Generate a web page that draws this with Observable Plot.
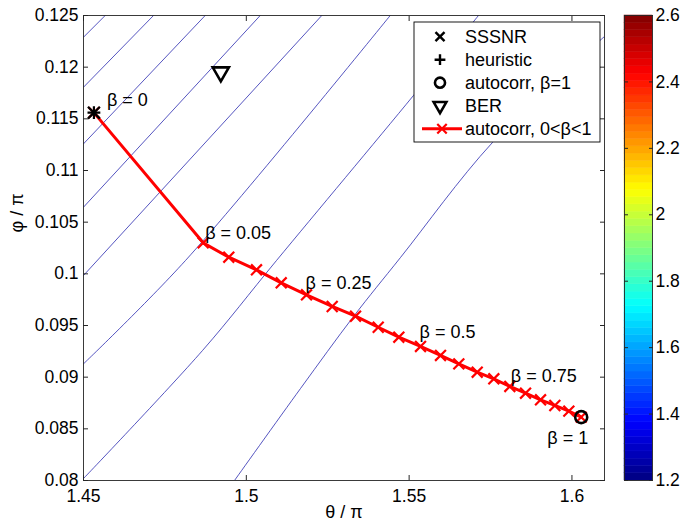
<!DOCTYPE html>
<html><head><meta charset="utf-8">
<script src="https://cdn.jsdelivr.net/npm/d3@7"></script>
<script src="https://cdn.jsdelivr.net/npm/@observablehq/plot@0.6"></script>
<style>
body{margin:0;background:#fff;}
#wrap{position:relative;width:685px;height:530px;}
#wrap svg{position:absolute;left:0;top:0;}
</style></head><body><div id="wrap"></div>
<script>
// ---- data ----
const beta  = [0,0.05,0.1,0.15,0.2,0.25,0.3,0.35,0.4,0.45,0.5,0.55,0.6,0.65,0.7,0.75,0.8,0.85,0.9,0.95,1];
const theta = [1.4532,1.48676,1.49462,1.50313,1.51072,1.51849,1.52638,1.53354,1.54051,1.54684,1.5535,1.55964,1.56526,1.57091,1.57601,1.58093,1.58575,1.59036,1.59475,1.59905,1.60285];
const phi   = [0.1156,0.1030,0.10161,0.10039,0.09913,0.09797,0.09684,0.0959,0.09483,0.09387,0.09297,0.0921,0.09129,0.09048,0.08984,0.0891,0.08845,0.08781,0.08726,0.08671,0.08613];
const sssnr = [1.4532, 0.1156];
const heuristic = [1.4532, 0.1156];
const autocorrBeta1 = [1.60285, 0.08613];
const ber = [1.49217, 0.11953];
const contour1 = [[1.45,0.1229],[1.45666,0.125]];
const contour2 = [[1.45,0.11806],[1.4715,0.125]];
const contour3 = [[1.45,0.11258],[1.48737,0.125]];
const contour4 = [[1.45,0.10645],[1.50427,0.125]];
const contour5 = [[1.45,0.09984],[1.52318,0.125]];
const contour6 = [[1.45,0.09129],[1.48132,0.10129],[1.54419,0.125]];
const contour7 = [[1.45,0.08019],[1.48655,0.09258],[1.50927,0.10129],[1.55134,0.11726],[1.5713,0.125]];
const contour8 = [[1.49637,0.08],[1.51664,0.0889],[1.53292,0.09587],[1.54735,0.10158],[1.5756,0.11271],[1.61,0.12297]];
const xTicks = [1.45,1.5,1.55,1.6];
const yTicks = [0.08,0.085,0.09,0.095,0.1,0.105,0.11,0.115,0.12,0.125];
const cbTicks = [1.2,1.4,1.6,1.8,2,2.2,2.4,2.6];
const jetStops = [1.2,1.375,1.725,2.075,2.425,2.6];
const jetColors = ["#000080","#0000ff","#00ffff","#ffff00","#ff0000","#800000"];
const betaLabels = [0,0.05,0.25,0.5,0.75,1];
const legendLabels = ["SSSNR","heuristic","autocorr, β=1","BER","autocorr, 0<β<1"];
const xLabel = "θ / π";
const yLabel = "φ / π";

// ---- build ----
const table = beta.map((b,i)=>({beta:b, theta:theta[i], phi:phi[i]}));
const contours = [contour1,contour2,contour3,contour4,contour5,contour6,contour7,contour8]
  .flatMap((pts,id)=>pts.map(([x,y])=>({x,y,id})));
const fmt = d => String(+d.toFixed(3));
const FONT = "Liberation Sans, Arial, Helvetica, sans-serif";
const ink = "#262626";

// label offsets (style) relative to their beta point
const labelStyle = {
  0:    {dx:13, dy:-12.5, textAnchor:"start"},
  0.05: {dx:2,  dy:-10,   textAnchor:"start"},
  0.25: {dx:-1, dy:-12,   textAnchor:"start"},
  0.5:  {dx:-1, dy:-14,   textAnchor:"start"},
  0.75: {dx:1,  dy:-10.5, textAnchor:"start"},
  1:    {dx:7,  dy:21,    textAnchor:"end"}
};

const main = Plot.plot({
  width:685, height:530,
  marginLeft:83, marginRight:81, marginTop:15, marginBottom:50,
  style:{fontFamily:FONT, fontSize:"17.5px", color:"#000", background:"transparent"},
  x:{domain:[1.45,1.61]},
  y:{domain:[0.08,0.125]},
  marks:[
    Plot.line(contours, {x:"x", y:"y", z:"id", stroke:"#2a2ab0", strokeWidth:0.8, curve:"catmull-rom", clip:true}),
    Plot.line(table, {x:"theta", y:"phi", stroke:"#ff0000", strokeWidth:3, strokeLinejoin:"round"}),
    Plot.dot(table, {x:"theta", y:"phi", symbol:"times", r:5, stroke:"#ff0000", strokeWidth:2.2}),
    Plot.dot([sssnr], {x:d=>d[0], y:d=>d[1], symbol:"times", r:5.5, stroke:"#000", strokeWidth:2.2}),
    Plot.dot([heuristic], {x:d=>d[0], y:d=>d[1], symbol:"plus", r:4.2, stroke:"#000", strokeWidth:2.2}),
    Plot.dot([autocorrBeta1], {x:d=>d[0], y:d=>d[1], symbol:"circle", r:6, fill:"none", stroke:"#000", strokeWidth:2.6}),
    Plot.dot([ber], {x:d=>d[0], y:d=>d[1], symbol:"triangle", rotate:180, r:6, fill:"none", stroke:"#000", strokeWidth:2.6}),
    ...betaLabels.map(b => {
      const s = labelStyle[b];
      return Plot.text(table.filter(d=>d.beta===b), {x:"theta", y:"phi", text:d=>"β = "+d.beta,
        dx:s.dx, dy:s.dy, textAnchor:s.textAnchor, fontSize:18, fill:"#000"});
    }),
    Plot.frame({stroke:ink, strokeWidth:0.9}),
    // inward ticks on all four sides
    Plot.axisY(yTicks, {anchor:"left", tickSize:5, dx:5, fill:"none", stroke:ink, label:null}),
    Plot.axisY(yTicks, {anchor:"right", tickSize:5, dx:-5, fill:"none", stroke:ink, label:null}),
    Plot.axisX(xTicks, {anchor:"bottom", tickSize:5, dy:-5, fill:"none", stroke:ink, label:null}),
    Plot.axisX(xTicks, {anchor:"top", tickSize:5, dy:5, fill:"none", stroke:ink, label:null}),
    // tick labels
    Plot.axisY(yTicks, {anchor:"left", tickSize:0, tickPadding:5, tickFormat:fmt, label:null}),
    Plot.axisX(xTicks, {anchor:"bottom", tickSize:0, tickPadding:9, tickFormat:fmt, label:null}),
    Plot.text([xLabel], {text:d=>d, frameAnchor:"bottom", dy:37, fontSize:18}),
    Plot.text([yLabel], {text:d=>d, frameAnchor:"left", dx:-66, dy:-15.5, rotate:-90, fontSize:18})
  ]
});

// legend (drawn in pixels inside the plot SVG)
{
  const svg = d3.select(main);
  const g = svg.append("g").attr("font-family", FONT).attr("font-size", 18).attr("text-anchor","start");
  const bx = 414, by = 22, bw = 186, bh = 120;
  g.append("rect").attr("x",bx).attr("y",by).attr("width",bw).attr("height",bh)
    .attr("fill","#fff").attr("stroke","#000").attr("stroke-width",0.9);
  const symX = 440, textX = 465, row0 = 36.7, rowH = 23;
  const syms = [
    {type:d3.symbolTimes, size:55, fill:"none", stroke:"#000", sw:2.4},
    {type:d3.symbolPlus, size:40, fill:"none", stroke:"#000", sw:2.4},
    {type:d3.symbolCircle, size:80, fill:"none", stroke:"#000", sw:2.6},
    {type:d3.symbolTriangle, size:70, fill:"none", stroke:"#000", sw:2.6, rot:180},
    null
  ];
  legendLabels.forEach((lab,i)=>{
    const y = row0 + i*rowH;
    const s = syms[i];
    if (s) {
      g.append("path").attr("d", d3.symbol(s.type, s.size)())
        .attr("transform", `translate(${symX},${y})` + (s.rot ? ` rotate(${s.rot})` : ""))
        .attr("fill", s.fill).attr("stroke", s.stroke).attr("stroke-width", s.sw);
    } else {
      g.append("line").attr("x1",422).attr("x2",462).attr("y1",y).attr("y2",y)
        .attr("stroke","#ff0000").attr("stroke-width",3);
      g.append("path").attr("d", d3.symbol(d3.symbolTimes, 60)())
        .attr("transform",`translate(442,${y})`).attr("fill","none")
        .attr("stroke","#ff0000").attr("stroke-width",2.2);
    }
    g.append("text").attr("x",textX).attr("y",y).attr("dy","0.35em")
      .attr("text-anchor","start").attr("fill","#000").text(lab);
  });
}

// colorbar as a second plot
const bands = d3.range(64).map(i => ({lo:1.2+1.4*i/64, hi:1.2+1.4*(i+1)/64}));
const cbar = Plot.plot({
  width:685, height:530,
  marginLeft:624, marginRight:33, marginTop:15, marginBottom:50,
  style:{fontFamily:FONT, fontSize:"17.5px", color:"#000", background:"transparent"},
  x:{domain:[0,1], axis:null},
  y:{domain:[1.2,2.6]},
  color:{type:"linear", domain:jetStops, range:jetColors},
  marks:[
    Plot.rect(bands, {x1:()=>0, x2:()=>1, y1:"lo", y2:"hi", fill:d=>(d.lo+d.hi)/2, stroke:d=>(d.lo+d.hi)/2, strokeWidth:0.5}),
    Plot.frame({stroke:ink, strokeWidth:0.9}),
    Plot.axisY(cbTicks, {anchor:"left", tickSize:4, dx:4, fill:"none", stroke:ink, label:null}),
    Plot.axisY(cbTicks, {anchor:"right", tickSize:4, dx:-4, fill:"none", stroke:ink, label:null}),
    Plot.axisY(cbTicks, {anchor:"right", tickSize:0, tickPadding:3, tickFormat:d=>String(d), label:null})
  ]
});

const wrap = document.getElementById("wrap");
wrap.appendChild(main);
wrap.appendChild(cbar);
</script>
</body></html>
